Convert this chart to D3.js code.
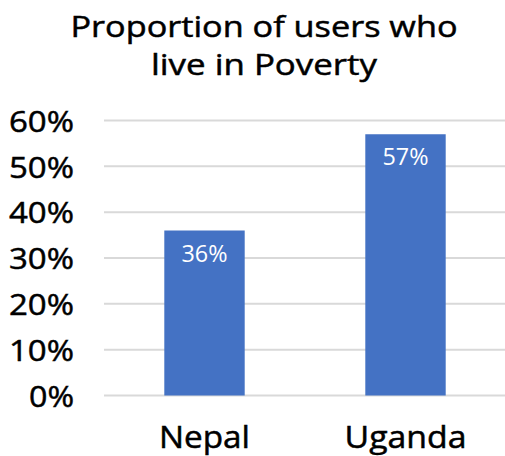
<!DOCTYPE html>
<html>
<head>
<meta charset="utf-8">
<script src="https://cdn.jsdelivr.net/npm/d3@7"></script>
<style>
  body { margin: 0; background: #fff; }
  text { font-family: "Open Sans", sans-serif; }
</style>
</head>
<body>
<svg id="chart"></svg>
<script>
var width = 505, height = 456;

// data
var categories = ["Nepal", "Uganda"];
var values = [0.36, 0.57];
var yTicks = [0, 0.1, 0.2, 0.3, 0.4, 0.5, 0.6];
var titleLines = ["Proportion of users who", "live in Poverty"];

var svg = d3.select("#chart")
  .attr("width", width)
  .attr("height", height);

var x = d3.scaleBand()
  .domain(categories)
  .range([104, 506])
  .paddingInner(0.6)
  .paddingOuter(0.3);

var y = d3.scaleLinear()
  .domain([0, 0.6])
  .range([395.5, 120.5]);

// gridlines
svg.append("g")
  .selectAll("line")
  .data(yTicks)
  .enter()
  .append("line")
  .attr("x1", 104)
  .attr("x2", 505)
  .attr("y1", function(d){ return y(d); })
  .attr("y2", function(d){ return y(d); })
  .attr("stroke", "#d9d9d9")
  .attr("stroke-width", 2);

// y axis labels
var yAxis = d3.axisLeft(y)
  .tickValues(yTicks)
  .tickFormat(d3.format(".0%"))
  .tickSize(0)
  .tickPadding(0);

svg.append("g")
  .attr("transform", "translate(74,0)")
  .call(yAxis)
  .call(function(g){ g.select(".domain").remove(); })
  .selectAll("text")
  .attr("font-family", "'Open Sans', sans-serif")
  .attr("font-size", 30)
  .attr("fill", "#000")
  .attr("stroke", "#000")
  .attr("stroke-width", 0.5)
  .attr("dy", "0.36em")
  .attr("textLength", function(d){ return d === 0 ? 45 : 65; })
  .attr("lengthAdjust", "spacingAndGlyphs");

// bars
svg.append("g")
  .selectAll("rect")
  .data(values)
  .enter()
  .append("rect")
  .attr("x", function(d, i){ return x(categories[i]); })
  .attr("y", function(d){ return y(d); })
  .attr("width", x.bandwidth())
  .attr("height", function(d){ return y(0) - y(d); })
  .attr("fill", "#4472c4");

// value labels
svg.append("g")
  .selectAll("text")
  .data(values)
  .enter()
  .append("text")
  .attr("x", function(d, i){ return x(categories[i]) + x.bandwidth() / 2; })
  .attr("y", function(d){ return y(d) + 31; })
  .attr("text-anchor", "middle")
  .attr("font-size", 23)
  .attr("fill", "#fff")
  .attr("textLength", 46)
  .attr("lengthAdjust", "spacingAndGlyphs")
  .text(function(d){ return d3.format(".0%")(d); });

// x axis labels
var xAxis = d3.axisBottom(x).tickSize(0).tickPadding(0);
svg.append("g")
  .attr("transform", "translate(0,448)")
  .call(xAxis)
  .call(function(g){ g.select(".domain").remove(); })
  .selectAll("text")
  .attr("font-family", "'Open Sans', sans-serif")
  .attr("font-size", 31)
  .attr("fill", "#000")
  .attr("stroke", "#000")
  .attr("stroke-width", 0.5)
  .attr("dy", 0)
  .attr("textLength", function(d){ return d === "Nepal" ? 91 : 122; })
  .attr("lengthAdjust", "spacingAndGlyphs");

// title
var titleWidths = [387, 226];
svg.append("g")
  .selectAll("text")
  .data(titleLines)
  .enter()
  .append("text")
  .attr("x", 264)
  .attr("y", function(d, i){ return 37 + i * 38; })
  .attr("text-anchor", "middle")
  .attr("font-size", 30)
  .attr("fill", "#000")
  .attr("stroke", "#000")
  .attr("stroke-width", 0.5)
  .attr("textLength", function(d, i){ return titleWidths[i]; })
  .attr("lengthAdjust", "spacingAndGlyphs")
  .text(function(d){ return d; });
</script>
</body>
</html>
